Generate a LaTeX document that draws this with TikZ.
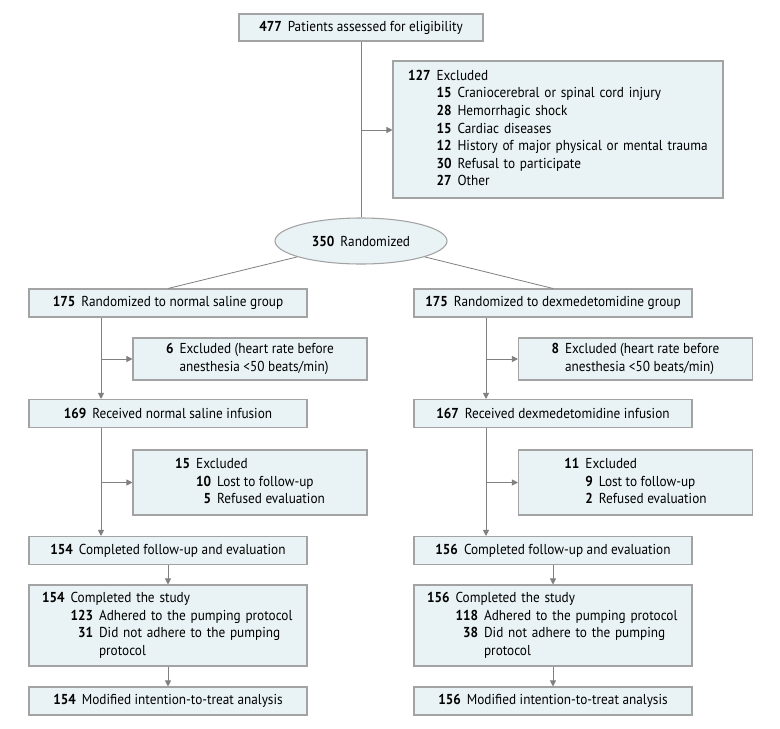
\documentclass[tikz,border=0pt]{standalone}
\usepackage{fontspec}
\setmainfont{PT Sans}[FakeStretch=0.92]
\usetikzlibrary{arrows.meta, positioning, shapes.geometric}
\definecolor{boxFill}{HTML}{E9F2F5}
\definecolor{boxLine}{HTML}{A3A3A3}
\definecolor{flowGray}{HTML}{808080}

\begin{document}
\begin{tikzpicture}[
    x=0.75pt, y=-0.75pt,
    every node/.style={font=\fontsize{10.8}{13.2}\selectfont},
    flowBox/.style={rectangle, draw=boxLine, fill=boxFill, line width=0.8pt, inner sep=0pt, align=center},
    mainBox/.style={flowBox, minimum width=208.5pt, minimum height=21pt},
    exclBox/.style={flowBox, minimum width=175.5pt, minimum height=31.5pt},
    listBox/.style={flowBox, text width=189pt, minimum width=208.5pt, minimum height=60.75pt, align=left},
    randEllipse/.style={ellipse, draw=boxLine, fill=boxFill, line width=0.8pt, inner sep=0pt, minimum width=129pt, minimum height=34.5pt},
    flowLine/.style={draw=flowGray, line width=0.6pt},
    flowArrow/.style={flowLine, -{Triangle[width=4.5pt,length=4.5pt]}}
]
    % Canvas
    \fill[white] (0,0) rectangle (780,728);
    \path[use as bounding box] (0,0) rectangle (780,728);

    % Enrollment
    \node[mainBox, minimum width=183pt, minimum height=20.25pt] (assess) at (361,27.5)
        {\textbf{477}\hspace{4.5pt}Patients assessed for eligibility};
    \node[flowBox, text width=225pt, minimum width=247.5pt, minimum height=102.75pt, align=left] (exclAll) at (558,129.5) {%
        \begin{tabular}{@{}r@{\hspace{4.5pt}}r@{\hspace{4.5pt}}l@{}}
        \textbf{127} & \multicolumn{2}{@{}l@{}}{Excluded}\\
        & \textbf{15} & Craniocerebral or spinal cord injury\\
        & \textbf{28} & Hemorrhagic shock\\
        & \textbf{15} & Cardiac diseases\\
        & \textbf{12} & History of major physical or mental trauma\\
        & \textbf{30} & Refusal to participate\\
        & \textbf{27} & Other
        \end{tabular}};
    \node[randEllipse] (rand) at (361,241) {\textbf{350}\hspace{4.5pt}Randomized};

    % Allocation
    \node[mainBox] (randL) at (168,303) {\textbf{175}\hspace{4.5pt}Randomized to normal saline group};
    \node[mainBox] (randR) at (553,303) {\textbf{175}\hspace{4.5pt}Randomized to dexmedetomidine group};
    \node[exclBox] (exclL1) at (250,359) {%
        \begin{tabular}{@{}r@{\hspace{4.5pt}}l@{}}
        \textbf{6} & Excluded (heart rate before\\
        & anesthesia <50 beats/min)
        \end{tabular}};
    \node[exclBox] (exclR1) at (635.5,359) {%
        \begin{tabular}{@{}r@{\hspace{4.5pt}}l@{}}
        \textbf{8} & Excluded (heart rate before\\
        & anesthesia <50 beats/min)
        \end{tabular}};
    \node[mainBox] (recvL) at (168,413.5) {\textbf{169}\hspace{4.5pt}Received normal saline infusion};
    \node[mainBox] (recvR) at (553,413.5) {\textbf{167}\hspace{4.5pt}Received dexmedetomidine infusion};

    % Follow-up
    \node[exclBox, minimum height=48.75pt] (exclL2) at (250,482.5) {%
        \begin{tabular}{@{}r@{\hspace{4.5pt}}r@{\hspace{4.5pt}}l@{}}
        \textbf{15} & \multicolumn{2}{@{}l@{}}{Excluded}\\
        & \textbf{10} & Lost to follow-up\\
        & \textbf{5} & Refused evaluation
        \end{tabular}};
    \node[exclBox, minimum height=48.75pt] (exclR2) at (635.5,482.5) {%
        \begin{tabular}{@{}r@{\hspace{4.5pt}}r@{\hspace{4.5pt}}l@{}}
        \textbf{11} & \multicolumn{2}{@{}l@{}}{Excluded}\\
        & \textbf{9} & Lost to follow-up\\
        & \textbf{2} & Refused evaluation
        \end{tabular}};
    \node[mainBox] (followL) at (168,550.5) {\textbf{154}\hspace{4.5pt}Completed follow-up and evaluation};
    \node[mainBox] (followR) at (553,550.5) {\textbf{156}\hspace{4.5pt}Completed follow-up and evaluation};
    \node[listBox] (studyL) at (168,625.5) {%
        \begin{tabular}{@{}r@{\hspace{4.5pt}}r@{\hspace{4.5pt}}l@{}}
        \textbf{154} & \multicolumn{2}{@{}l@{}}{Completed the study}\\
        & \textbf{123} & Adhered to the pumping protocol\\
        & \textbf{31} & Did not adhere to the pumping\\
        & & protocol
        \end{tabular}};
    \node[listBox] (studyR) at (553,625.5) {%
        \begin{tabular}{@{}r@{\hspace{4.5pt}}r@{\hspace{4.5pt}}l@{}}
        \textbf{156} & \multicolumn{2}{@{}l@{}}{Completed the study}\\
        & \textbf{118} & Adhered to the pumping protocol\\
        & \textbf{38} & Did not adhere to the pumping\\
        & & protocol
        \end{tabular}};

    % Analysis
    \node[mainBox] (mittL) at (168,701) {\textbf{154}\hspace{4.5pt}Modified intention-to-treat analysis};
    \node[mainBox] (mittR) at (553,701) {\textbf{156}\hspace{4.5pt}Modified intention-to-treat analysis};

    % Connectors
    \coordinate (splitTop) at (361,130);
    \coordinate (armL) at (101,0);
    \coordinate (armR) at (486,0);

    \draw[flowLine] (assess) -- (rand);
    \draw[flowArrow] (splitTop) -- (splitTop -| exclAll.west);
    \draw[flowLine] (rand.194) -- (randL.north);
    \draw[flowLine] (rand.346) -- (randR.north);

    \draw[flowArrow] (randL.south -| armL) -- (recvL.north -| armL);
    \draw[flowArrow] (exclL1.west -| armL) -- (exclL1.west);
    \draw[flowArrow] (randR.south -| armR) -- (recvR.north -| armR);
    \draw[flowArrow] (exclR1.west -| armR) -- (exclR1.west);

    \draw[flowArrow] (recvL.south -| armL) -- (followL.north -| armL);
    \draw[flowArrow] (exclL2.west -| armL) -- (exclL2.west);
    \draw[flowArrow] (recvR.south -| armR) -- (followR.north -| armR);
    \draw[flowArrow] (exclR2.west -| armR) -- (exclR2.west);

    \draw[flowArrow] (followL) -- (studyL);
    \draw[flowArrow] (followR) -- (studyR);
    \draw[flowArrow] (studyL) -- (mittL);
    \draw[flowArrow] (studyR) -- (mittR);
\end{tikzpicture}
\end{document}
